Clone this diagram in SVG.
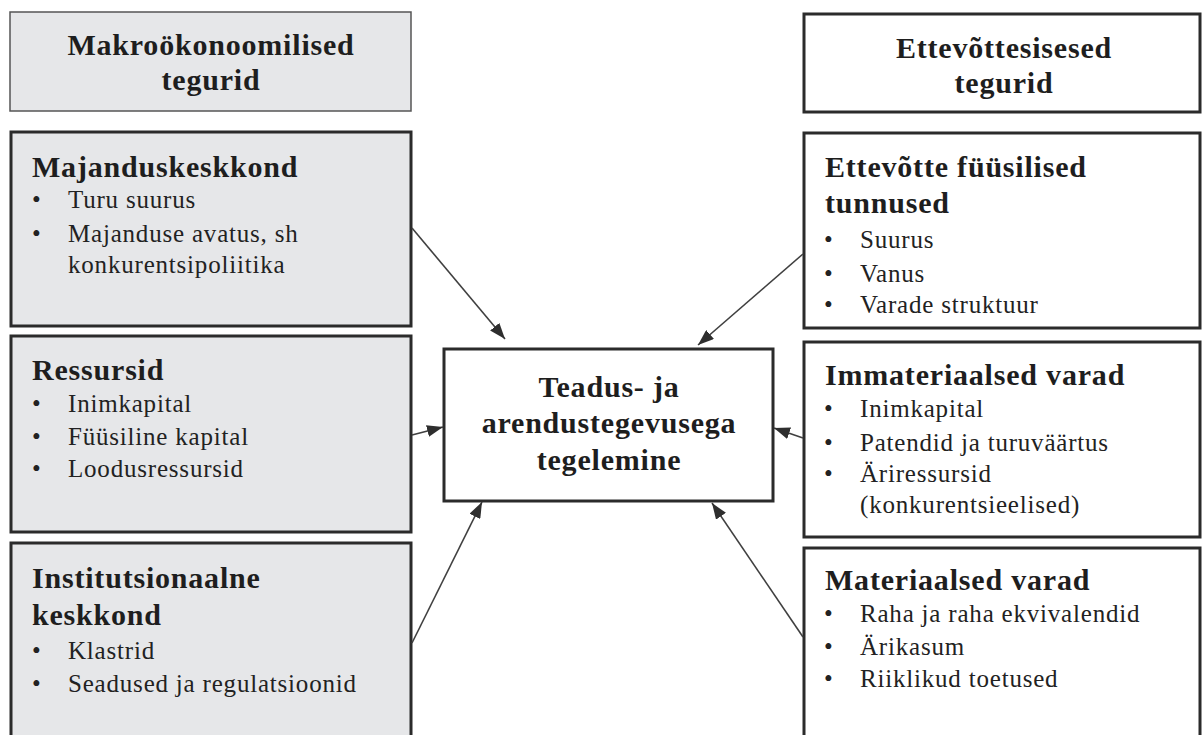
<svg xmlns="http://www.w3.org/2000/svg" width="1202" height="735" viewBox="0 0 1202 735">
<style>
.bg{fill:#ffffff}
.gray{fill:#e6e7e9}
.white{fill:#ffffff}
.thin{stroke:#555555;stroke-width:1.5}
.thick{stroke:#2b2b2b;stroke-width:3}
.h{font-family:"Liberation Serif","Times New Roman",serif;font-weight:bold;font-size:30px;letter-spacing:0.8px;fill:#1e1e1e}
.b{font-family:"Liberation Serif","Times New Roman",serif;font-size:25px;letter-spacing:0.8px;fill:#222222}
.c{text-anchor:middle}
.conn{stroke:#404040;stroke-width:1.6;fill:none;marker-end:url(#ah)}
</style>
<defs>
<marker id="ah" markerUnits="userSpaceOnUse" markerWidth="16" markerHeight="12" refX="16" refY="6" orient="auto">
<path d="M0,0 L16,6 L0,12 z" fill="#2e2e2e"/>
</marker>
</defs>
<rect class="bg" x="0" y="0" width="1202" height="735"/>

<g id="macro-header">
<rect class="gray thin" x="10" y="12" width="401" height="99"/>
<text class="h c" x="211" y="55">Makroökonoomilised</text>
<text class="h c" x="211" y="90">tegurid</text>
</g>

<g id="majanduskeskkond">
<rect class="gray thick" x="11" y="132" width="400" height="194"/>
<text class="h" x="32" y="177">Majanduskeskkond</text>
<text class="b" x="32" y="208">•</text><text class="b" x="68" y="208">Turu suurus</text>
<text class="b" x="32" y="242">•</text><text class="b" x="68" y="242">Majanduse avatus, sh</text>
<text class="b" x="68" y="273">konkurentsipoliitika</text>
</g>

<g id="ressursid">
<rect class="gray thick" x="11" y="336" width="400" height="196"/>
<text class="h" x="32" y="380">Ressursid</text>
<text class="b" x="32" y="412">•</text><text class="b" x="68" y="412">Inimkapital</text>
<text class="b" x="32" y="445">•</text><text class="b" x="68" y="445">Füüsiline kapital</text>
<text class="b" x="32" y="477">•</text><text class="b" x="68" y="477">Loodusressursid</text>
</g>

<g id="institutsionaalne">
<rect class="gray thick" x="11" y="543" width="400" height="210"/>
<text class="h" x="32" y="588">Institutsionaalne</text>
<text class="h" x="32" y="625">keskkond</text>
<text class="b" x="32" y="659">•</text><text class="b" x="68" y="659">Klastrid</text>
<text class="b" x="32" y="692">•</text><text class="b" x="68" y="692">Seadused ja regulatsioonid</text>
</g>

<g id="center">
<rect class="white thick" x="444" y="349" width="329" height="152"/>
<text class="h c" x="609" y="397">Teadus- ja</text>
<text class="h c" x="609" y="433">arendustegevusega</text>
<text class="h c" x="609" y="470">tegelemine</text>
</g>

<g id="firm-header">
<rect class="white thick" x="804" y="14" width="396" height="98"/>
<text class="h c" x="1004" y="58">Ettevõttesisesed</text>
<text class="h c" x="1004" y="93">tegurid</text>
</g>

<g id="fuusilised">
<rect class="white thick" x="804" y="133" width="396" height="195"/>
<text class="h" x="825" y="177">Ettevõtte füüsilised</text>
<text class="h" x="825" y="213">tunnused</text>
<text class="b" x="824" y="248">•</text><text class="b" x="860" y="248">Suurus</text>
<text class="b" x="824" y="282">•</text><text class="b" x="860" y="282">Vanus</text>
<text class="b" x="824" y="313">•</text><text class="b" x="860" y="313">Varade struktuur</text>
</g>

<g id="immateriaalsed">
<rect class="white thick" x="804" y="342" width="396" height="195"/>
<text class="h" x="825" y="385">Immateriaalsed varad</text>
<text class="b" x="824" y="417">•</text><text class="b" x="860" y="417">Inimkapital</text>
<text class="b" x="824" y="451">•</text><text class="b" x="860" y="451">Patendid ja turuväärtus</text>
<text class="b" x="824" y="482">•</text><text class="b" x="860" y="482">Äriressursid</text>
<text class="b" x="860" y="513">(konkurentsieelised)</text>
</g>

<g id="materiaalsed">
<rect class="white thick" x="804" y="548" width="396" height="210"/>
<text class="h" x="825" y="590">Materiaalsed varad</text>
<text class="b" x="824" y="622">•</text><text class="b" x="860" y="622">Raha ja raha ekvivalendid</text>
<text class="b" x="824" y="655">•</text><text class="b" x="860" y="655">Ärikasum</text>
<text class="b" x="824" y="687">•</text><text class="b" x="860" y="687">Riiklikud toetused</text>
</g>

<g id="connectors">
<line class="conn" x1="412" y1="228" x2="505" y2="339"/>
<line class="conn" x1="803" y1="254" x2="698" y2="345"/>
<line class="conn" x1="412" y1="435" x2="443" y2="427"/>
<line class="conn" x1="803" y1="438" x2="774" y2="428"/>
<line class="conn" x1="412" y1="643" x2="482" y2="502"/>
<line class="conn" x1="803" y1="637" x2="712" y2="503"/>
</g>
</svg>
